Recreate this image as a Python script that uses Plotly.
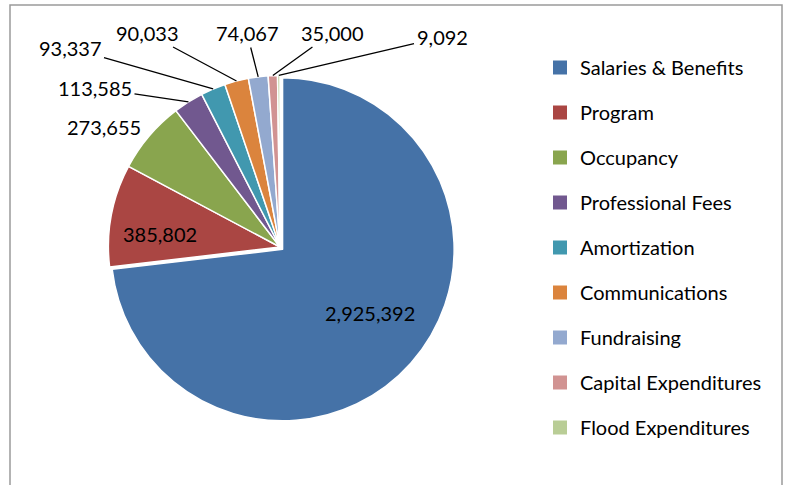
import math
import plotly.graph_objects as go

categories = ["Salaries & Benefits", "Program", "Occupancy", "Professional Fees",
              "Amortization", "Communications", "Fundraising",
              "Capital Expenditures", "Flood Expenditures"]
values = [2925392, 385802, 273655, 113585, 93337, 90033, 74067, 35000, 9092]
colors = ["#4572A7", "#AA4643", "#89A54E", "#71588F", "#4198AF",
          "#DB843D", "#93A9CF", "#D19392", "#B9CD96"]

# layout choices (not data)
pulls = [0.02, 0, 0, 0, 0, 0, 0, 0, 0]
# label centres in pixels
label_xy = [(370, 313), (160, 234), (104, 127), (95, 88), (70, 48), (147, 33),
            (247, 33), (332, 33), (442, 37)]
leader = [False, False, False, True, True, True, True, True, True]

W, H = 789, 485
FONT = "Lato, Calibri, sans-serif"
CX, CY, HALF = 280, 247, 175
R = HALF / (1 + max(pulls))

fig = go.Figure()
fig.add_trace(go.Pie(
    labels=categories, values=values, sort=False, direction="clockwise",
    rotation=0, pull=pulls,
    marker=dict(colors=colors, line=dict(color="white", width=1.5)),
    textinfo="none", hoverinfo="label+value+percent",
    showlegend=False, automargin=False,
    domain=dict(x=[(CX - HALF) / W, (CX + HALF) / W],
                y=[1 - (CY + HALF) / H, 1 - (CY - HALF) / H]),
))

for name, col in zip(categories, colors):
    fig.add_trace(go.Scatter(
        x=[None], y=[None], mode="markers", name=name, legendgroup=name,
        marker=dict(symbol="square", size=14, color=col),
    ))

# value labels; leader lines point at each slice's mid-angle on the rim
total = sum(values)
annotations = []
cum = 0.0
for v, lxy, has_line in zip(values, label_xy, leader):
    mid = (cum + v / 2) / total * 2 * math.pi
    cum += v
    px = CX + R * math.sin(mid)
    py = CY - R * math.cos(mid)
    txt = f"{v:,}"
    if has_line:
        annotations.append(dict(
            xref="paper", yref="paper", x=px / W, y=1 - py / H,
            ax=lxy[0] - px, ay=lxy[1] - py, axref="pixel", ayref="pixel",
            text=txt, showarrow=True, arrowhead=0, arrowwidth=1.3,
            arrowcolor="black", standoff=0, startstandoff=1,
            font=dict(family=FONT, size=20, color="black")))
    else:
        annotations.append(dict(
            xref="paper", yref="paper", x=lxy[0] / W, y=1 - lxy[1] / H,
            xanchor="center", yanchor="middle",
            text=txt, showarrow=False,
            font=dict(family=FONT, size=20, color="black")))

fig.update_xaxes(visible=False)
fig.update_yaxes(visible=False)
fig.update_layout(
    width=W, height=H, margin=dict(l=0, r=0, t=0, b=0),
    paper_bgcolor="white", plot_bgcolor="white",
    font=dict(family=FONT, size=20, color="black"),
    legend=dict(x=540 / W, y=1 - 48 / H, xanchor="left", yanchor="top",
                tracegroupgap=16, font=dict(family=FONT, size=20, color="black"),
                bgcolor="rgba(0,0,0,0)"),
    annotations=annotations,
    shapes=[dict(type="rect", xref="paper", yref="paper",
                 x0=10 / W, x1=782 / W, y0=-0.1, y1=1 - 5 / H,
                 line=dict(color="#9a9a9a", width=1.5))],
)
fig.write_html("out.html", config={"displayModeBar": False},
               post_script="document.body.style.margin='0';")
